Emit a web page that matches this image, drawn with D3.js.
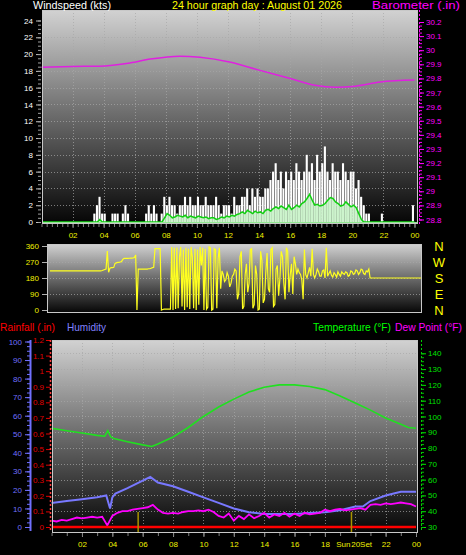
<!DOCTYPE html>
<html><head><meta charset="utf-8">
<script src="https://cdn.jsdelivr.net/npm/d3@7"></script>
<style>body{margin:0;background:#000;overflow:hidden} svg{display:block;font-family:"Liberation Sans",Arial,sans-serif;}</style>
</head><body><svg id="c" width="466" height="555"></svg>
<script>
// ---------- DATA ----------
const hourLabels = ["02","04","06","08","10","12","14","16","18","20","22","00"];
const hourLabelValues = [2,4,6,8,10,12,14,16,18,20,22,24];
const windTicks = [0,2,4,6,8,10,12,14,16,18,20,22,24];
const baroTicks = [28.8,28.9,29,29.1,29.2,29.3,29.4,29.5,29.6,29.7,29.8,29.9,30,30.1,30.2];
const dirTicks = [0,90,180,270,360];
const compass = ["N","W","S","E","N"];
const compassDeg = [360,270,180,90,0];
const humTicks = [0,10,20,30,40,50,60,70,80,90,100];
const rainTicks = [0,0.1,0.2,0.3,0.4,0.5,0.6,0.7,0.8,0.9,1,1.1,1.2];
const tempTicks = [30,40,50,60,70,80,90,100,110,120,130,140];

// barometer (.in)
const baroHours = [0,2,3.7,5.7,7,8.9,10.2,12.1,14,16,17.6,18.9,20.2,21.8,24];
const baroValues = [29.88,29.885,29.887,29.91,29.937,29.958,29.95,29.916,29.859,29.80,29.752,29.738,29.745,29.774,29.788];

// wind gust (kts), one value per 10 minutes, 00:00 .. 23:50
const windGust = [
 0,0,0,0,0,0, 0,0,0,0,0,0, 0,0,0,0,0,0, 0,0,1,2,3,1,
 1,0,0,1,1,1, 0,1,2,1,0,0, 0,0,0,0,1,2, 1,2,1,0,1,3,
 2,3,2,2,1,2, 2,3,2,3,2,2, 3,2,2,3,2,2, 2,3,2,1,2,2,
 2,1,3,2,2,3, 3,4,2,4,3,4, 3,3,4,4,5,6, 7,5,6,4,6,5,
 6,5,7,6,5,6, 8,6,7,5,8,6, 7,9,6,5,7,6, 6,5,7,6,5,6,
 6,4,5,3,2,1, 1,0,0,0,0,1, 0,0,0,0,0,0, 0,0,0,0,0,2
];
// average wind speed (kts), one value per 10 minutes
const windAvg = [
 0,0,0,0,0,0, 0,0,0,0,0,0, 0,0,0,0,0,0, 0,0,0,0,0.3,0,
 0,0,0,0,0,0, 0,0,0,0,0,0, 0,0,0,0,0,0, 0,0,0,0,0,0.5,
 1,0.8,0.5,0.6,0.8,0.7, 0.6,0.8,0.5,0.7,0.6,0.5, 0.7,0.6,0.5,0.6,0.4,0.5, 0.5,0.3,0.4,0.6,0.5,0.7,
 0.6,0.8,0.7,0.9,1.0,1.2, 1.0,1.4,1.2,1.0,1.3,1.1, 1.2,1.0,1.4,1.5,1.3,1.6, 1.8,1.6,1.9,1.7,1.5,2.0,
 1.5,1.7,2.0,1.8,2.2,2.4, 2.8,3.3,2.6,2.0,2.1,1.9, 2.0,2.2,2.6,2.9,2.8,2.4, 2.2,1.9,2.0,2.4,2.1,1.8,
 2.0,1.7,1.0,0.3,0,0, 0,0,0,0,0,0, 0,0,0,0,0,0, 0,0,0,0,0,0
];
// wind direction (deg), one value per 5 minutes
const windDir = [
 220,220,220,220,220,220,220,220,220,220,220,220,
 220,220,220,220,220,220,220,220,220,220,220,220,
 220,220,220,220,220,220,220,220,220,220,220,220,
 220,220,220,220,222,225,228,230,332,212,235,238,
 238,240,262,265,268,268,270,272,285,290,290,290,
 290,291,292,292,293,295,310,0,230,230,230,230,
 230,230,230,230,232,232,235,238,240,345,345,345,
 345,345,0,3,5,5,5,5,5,5,355,0,
 350,5,352,10,300,355,20,340,0,350,15,345,
 5,355,300,10,345,0,340,30,355,250,350,0,
 345,5,15,355,350,0,5,345,340,10,290,350,
 120,220,200,160,170,210,190,130,150,190,200,230,
 220,60,90,300,330,5,20,200,260,100,150,340,
 345,10,30,250,200,0,5,330,280,40,60,210,
 320,120,100,340,350,20,30,230,250,80,180,330,
 300,150,60,350,330,100,200,260,90,300,260,200,
 230,210,200,170,60,340,200,180,210,240,190,345,
 200,180,200,230,215,190,190,220,225,180,350,190,
 205,220,195,185,210,200,185,215,200,190,215,205,
 200,215,210,190,195,220,215,200,205,225,220,200,
 210,230,225,205,200,220,215,230,180,180,180,180,
 180,180,180,180,180,180,180,180,180,180,180,180,
 180,180,180,180,180,180,180,180,180,180,180,180,
 180,180,180,180,180,180,180,180,180,180,180,180
];

// temperature (°F)
const tempHours = [0,1,2,3,3.5,3.7,3.9,4.1,5,6,6.6,7,8,9,10,11,12,13,14,15,16,17,18,19,20,21,22,23,23.5,24];
const tempValues = [92.5,91,89.5,88,87.5,91,87,86,84,82,81,82.5,87,93,100,106,111,115.5,118.5,120,120,119,117,113,108.5,104,99,95,93,92.5];
// humidity (%)
const humHours = [0,1,2,3,3.6,3.85,4.0,4.2,5,6,6.5,7,8,9,10,11,12,13,14,15,16,17,18,19,20,20.5,21,22,23,24];
const humValues = [13,14,15,16,17,10,16,18,21,25,27,24,22,19,16,13,10,8,7,7,7,7.5,8,9,11,11,14,17,19,19];
// dew point (°F), one value per 20 minutes
const dewValues = [
 34,33.5,34.5, 34,35,36, 35.5,36,36.5, 36,36.5,31, 37,39,40, 40,41,41.5, 42,42.5,44, 41,39,38.5,
 39,38.5,39.5, 40,40,40.5, 40,41,39.5, 37,36,38.5, 34,37,35, 38,35.5,37, 39,36,38, 37,39,36.5,
 38.5,37,39, 38,38.5,39, 41,40,41, 41.5,40.5,41, 41.5,42,41, 44,44.5,44, 45,44.5,45, 45.5,45,44.5, 43
];
// rainfall (.in)
const rainHours = [0,24];
const rainValues = [0,0];
const sunEvents = [5.7,19.75];

// ---------- DRAW ----------
const svg = d3.select("#c");
const defs = svg.append("defs");
const grad = defs.append("linearGradient").attr("id","bg").attr("x1",0).attr("x2",0).attr("y1",0).attr("y2",1);
grad.append("stop").attr("offset","0%").attr("stop-color","#d2d2d2");
grad.append("stop").attr("offset","50%").attr("stop-color","#6a6a6a");
grad.append("stop").attr("offset","100%").attr("stop-color","#050505");

const FONT = 8;
const yellow = "#f0f000";

function styleAxis(g, color, fs){
  g.select(".domain").remove();
  g.selectAll(".tick line").attr("stroke", color);
  g.selectAll(".tick text").attr("fill", color).attr("font-size", fs||FONT).attr("font-family","Liberation Sans, Arial, sans-serif");
}
function minorAxis(gen, scale, vals, color, y, x){
  const g = svg.append("g").attr("transform",`translate(${x||0},${y||0})`).call(gen(scale).tickValues(vals).tickSize(3).tickFormat(""));
  g.select(".domain").remove();
  g.selectAll(".tick line").attr("stroke", color);
  return g;
}
function range(a,b,s){const r=[];for(let v=a;v<=b+1e-9;v+=s)r.push(+v.toFixed(4));return r;}
function title(g,x,y,w,color,txt){
  g.append("text").attr("x",x).attr("y",y).attr("fill",color).attr("textLength",w).attr("lengthAdjust","spacingAndGlyphs").text(txt);
}

// ===== Panel 1: wind & barometer =====
const P1 = {x0:42,x1:418,y0:10,y1:224};
const xTop = d3.scaleLinear().domain([0,24]).range([41.5,414.5]);
const yW = d3.scaleLinear().domain([0,24]).range([222,20.5]);
const yB = d3.scaleLinear().domain([28.8,30.2]).range([219.5,22]);

svg.append("rect").attr("x",P1.x0).attr("y",P1.y0).attr("width",P1.x1-P1.x0).attr("height",P1.y1-P1.y0).attr("fill","url(#bg)");
const g1 = svg.append("g").attr("stroke","#a8a8a8").attr("stroke-dasharray","1,2").attr("stroke-width",1).attr("opacity",0.7);
windTicks.slice(1,-1).forEach(v=>g1.append("line").attr("x1",P1.x0).attr("x2",P1.x1).attr("y1",Math.round(yW(v))+0.5).attr("y2",Math.round(yW(v))+0.5));
hourLabelValues.slice(0,-1).forEach(h=>g1.append("line").attr("y1",P1.y0).attr("y2",P1.y1).attr("x1",Math.round(xTop(h))+0.5).attr("x2",Math.round(xTop(h))+0.5));

const step = 1/6;
svg.append("g").selectAll("rect").data(windGust.map((v,i)=>({h:i*step,v}))).join("rect")
  .attr("x",d=>xTop(d.h)).attr("width",d=>Math.max(1, xTop(d.h+step)-xTop(d.h)-0.5))
  .attr("y",d=>yW(d.v)).attr("height",d=>yW(0)-yW(d.v)).attr("fill","#ffffff");
svg.append("g").selectAll("rect").data(windAvg.map((v,i)=>({h:i*step,v}))).join("rect")
  .attr("x",d=>xTop(d.h)).attr("width",d=>xTop(d.h+step)-xTop(d.h))
  .attr("y",d=>yW(d.v)).attr("height",d=>yW(0)-yW(d.v)).attr("fill","#c4f2c4").attr("opacity",0.85);
svg.append("path").datum(windAvg.map((v,i)=>[i*step+step/2,v]).concat([[24,0]]))
  .attr("d",d3.line().x(d=>xTop(d[0])).y(d=>yW(d[1]))).attr("fill","none").attr("stroke","#10d010").attr("stroke-width",1.5);
svg.append("line").attr("x1",P1.x0).attr("x2",P1.x1).attr("y1",223).attr("y2",223).attr("stroke","#90e890").attr("stroke-width",2);
svg.append("path").datum(baroHours.map((h,i)=>[h,baroValues[i]]))
  .attr("d",d3.line().curve(d3.curveMonotoneX).x(d=>xTop(d[0])).y(d=>yB(d[1]))).attr("fill","none").attr("stroke","#e020e0").attr("stroke-width",1.5);
svg.append("rect").attr("x",P1.x0+0.5).attr("y",P1.y0+0.5).attr("width",P1.x1-P1.x0-1).attr("height",P1.y1-P1.y0-1).attr("fill","none").attr("stroke","#c8c8c8").attr("stroke-width",1);

const axW = svg.append("g").attr("transform","translate(41,0)").call(d3.axisLeft(yW).tickValues(windTicks).tickSize(5).tickPadding(3));
styleAxis(axW,"#c0c0c0"); axW.selectAll(".tick text").attr("fill","#ffffff");
minorAxis(d3.axisLeft, yW, range(0,24,0.5), "#a0a0a0", 0, 41);
const axB = svg.append("g").attr("transform","translate(419,0)").call(d3.axisRight(yB).tickValues(baroTicks).tickSize(5).tickPadding(2).tickFormat(d=>d3.format("")(+d.toFixed(1))));
styleAxis(axB,"#ff00ff");
minorAxis(d3.axisRight, yB, range(28.8,30.2,0.025), "#ff00ff", 0, 419);
svg.append("line").attr("x1",419.5).attr("x2",419.5).attr("y1",P1.y0).attr("y2",P1.y1).attr("stroke","#ff00ff").attr("stroke-dasharray","2,2");
const axX1 = svg.append("g").attr("transform",`translate(0,${P1.y1})`).call(d3.axisBottom(xTop).tickValues(hourLabelValues).tickSize(4).tickPadding(4).tickFormat((d,i)=>hourLabels[i]));
styleAxis(axX1,"#909090"); axX1.selectAll(".tick text").attr("fill",yellow);
minorAxis(d3.axisBottom, xTop, range(0,24,1/3), "#808080", P1.y1, 0);

const t = svg.append("g").attr("font-size",11);
title(t,33,9,78,"#ffffff","Windspeed (kts)");
title(t,172,9,170,"#ffff00","24 hour graph day : August 01 2026");
title(t,372,9,88,"#ff00ff","Barometer (.in)");

// ===== Panel 2: wind direction =====
const P2 = {x0:47,x1:422,y0:244,y1:313};
const xDir = d3.scaleLinear().domain([0,24]).range([50,421]);
const yD = d3.scaleLinear().domain([0,360]).range([310,246]);
svg.append("rect").attr("x",P2.x0).attr("y",P2.y0).attr("width",P2.x1-P2.x0).attr("height",P2.y1-P2.y0).attr("fill","url(#bg)");
const g2 = svg.append("g").attr("stroke","#a8a8a8").attr("stroke-dasharray","1,2").attr("opacity",0.7);
[90,180,270].forEach(v=>g2.append("line").attr("x1",P2.x0).attr("x2",P2.x1).attr("y1",Math.round(yD(v))+0.5).attr("y2",Math.round(yD(v))+0.5));
const dstep = 1/12;
svg.append("path").datum([[0,windDir[0]]].concat(windDir.map((v,i)=>[i*dstep+dstep/2,v])).concat([[24,windDir[windDir.length-1]]]))
  .attr("d",d3.line().x(d=>xDir(d[0])).y(d=>yD(d[1]))).attr("fill","none").attr("stroke","#ffff20").attr("stroke-width",1.2);
svg.append("rect").attr("x",P2.x0+0.5).attr("y",P2.y0+0.5).attr("width",P2.x1-P2.x0-1).attr("height",P2.y1-P2.y0-1).attr("fill","none").attr("stroke","#c8c8c8");
const axD = svg.append("g").attr("transform","translate(47,0)").call(d3.axisLeft(yD).tickValues(dirTicks).tickSize(5).tickPadding(3));
styleAxis(axD,"#b0b0b0"); axD.selectAll(".tick text").attr("fill",yellow);
svg.append("g").selectAll("text").data(compass).join("text")
  .attr("x",439).attr("y",(d,i)=>yD(compassDeg[i])+5).attr("text-anchor","middle")
  .attr("fill","#ffff00").attr("font-size",13).text(d=>d);

// ===== Panel 3: temperature/humidity/rain =====
const P3 = {x0:52,x1:418,y0:340,y1:533};
const xBot = d3.scaleLinear().domain([0,24]).range([51.6,416]);
const yT = d3.scaleLinear().domain([30,140]).range([527,353.3]);
const yH = d3.scaleLinear().domain([0,100]).range([527,341.5]);
const yR = d3.scaleLinear().domain([0,1.2]).range([527,340]);
svg.append("rect").attr("x",P3.x0).attr("y",P3.y0).attr("width",P3.x1-P3.x0).attr("height",P3.y1-P3.y0).attr("fill","url(#bg)");
const g3 = svg.append("g").attr("stroke","#a8a8a8").attr("stroke-dasharray","1,2").attr("opacity",0.7);
tempTicks.slice(1).forEach(v=>g3.append("line").attr("x1",P3.x0).attr("x2",P3.x1).attr("y1",Math.round(yT(v))+0.5).attr("y2",Math.round(yT(v))+0.5));
hourLabelValues.slice(0,-1).forEach(h=>g3.append("line").attr("y1",P3.y0).attr("y2",P3.y1).attr("x1",Math.round(xBot(h))+0.5).attr("x2",Math.round(xBot(h))+0.5));

svg.append("path").datum(humHours.map((h,i)=>[h,humValues[i]]))
  .attr("d",d3.line().x(d=>xBot(d[0])).y(d=>yH(d[1]))).attr("fill","none").attr("stroke","#7878ff").attr("stroke-width",2);
svg.append("path").datum(tempHours.map((h,i)=>[h,tempValues[i]]))
  .attr("d",d3.line().x(d=>xBot(d[0])).y(d=>yT(d[1]))).attr("fill","none").attr("stroke","#20e020").attr("stroke-width",1.6);
svg.append("path").datum(dewValues.map((v,i)=>[i/3,v]))
  .attr("d",d3.line().x(d=>xBot(d[0])).y(d=>yT(d[1]))).attr("fill","none").attr("stroke","#ff00ff").attr("stroke-width",1.8);
svg.append("path").datum(rainHours.map((h,i)=>[h,rainValues[i]]))
  .attr("d",d3.line().x(d=>xBot(d[0])).y(d=>yR(d[1]))).attr("fill","none").attr("stroke","#ff0000").attr("stroke-width",2.5);
svg.append("g").selectAll("line").data(sunEvents).join("line")
  .attr("x1",d=>xBot(d)).attr("x2",d=>xBot(d)).attr("y1",512).attr("y2",532).attr("stroke","#a89400").attr("stroke-width",1.5);
svg.append("rect").attr("x",P3.x0+0.5).attr("y",P3.y0+0.5).attr("width",P3.x1-P3.x0-1).attr("height",P3.y1-P3.y0-1).attr("fill","none").attr("stroke","#c8c8c8");

const axH = svg.append("g").attr("transform","translate(30,0)").call(d3.axisLeft(yH).tickValues(humTicks).tickSize(5).tickPadding(3));
styleAxis(axH,"#7070ff");
minorAxis(d3.axisLeft, yH, range(0,100,2.5), "#7070ff", 0, 30);
svg.append("line").attr("x1",30.5).attr("x2",30.5).attr("y1",340).attr("y2",531).attr("stroke","#7070ff").attr("stroke-width",2);
const axR = svg.append("g").attr("transform","translate(50,0)").call(d3.axisLeft(yR).tickValues(rainTicks).tickSize(4).tickPadding(2).tickFormat(d=>+d.toFixed(1)));
styleAxis(axR,"#e00000");
svg.append("line").attr("x1",50.5).attr("x2",50.5).attr("y1",340).attr("y2",530).attr("stroke","#ff4040").attr("stroke-dasharray","2,2").attr("stroke-width",1.5);
const axT = svg.append("g").attr("transform","translate(421,0)").call(d3.axisRight(yT).tickValues(tempTicks).tickSize(5).tickPadding(2));
styleAxis(axT,"#00e000");
minorAxis(d3.axisRight, yT, range(30,140,2.5), "#00c000", 0, 421);
svg.append("line").attr("x1",421.5).attr("x2",421.5).attr("y1",340).attr("y2",531).attr("stroke","#00d000").attr("stroke-dasharray","2,2");
const axX3 = svg.append("g").attr("transform",`translate(0,${P3.y1})`).call(d3.axisBottom(xBot).tickValues(hourLabelValues).tickSize(4).tickPadding(4).tickFormat((d,i)=>hourLabels[i]));
styleAxis(axX3,"#909090"); axX3.selectAll(".tick text").attr("fill",yellow);
minorAxis(d3.axisBottom, xBot, range(0,24,1),"#808080", P3.y1, 0);
const x20 = xBot(20);
svg.append("text").attr("x",x20-4.8).attr("y",P3.y1+14).attr("text-anchor","end").attr("fill",yellow).attr("font-size",FONT).text("Sun");
svg.append("text").attr("x",x20+4.8).attr("y",P3.y1+14).attr("text-anchor","start").attr("fill",yellow).attr("font-size",FONT).text("Set");

const t3 = svg.append("g").attr("font-size",11);
title(t3,0,331,55,"#ff0000","Rainfall (.in)");
title(t3,67,331,39,"#8080ff","Humidity");
title(t3,313,331,78,"#00ff00","Temperature (°F)");
title(t3,395,331,67,"#ff00ff","Dew Point (°F)");
</script></body></html>
